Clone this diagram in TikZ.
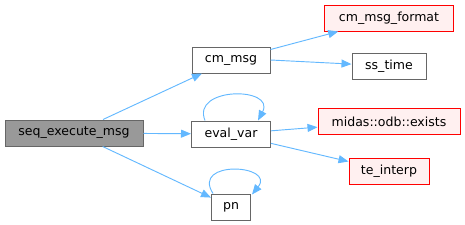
\documentclass[tikz,border=0pt]{standalone}
\usepackage{fontspec}
\setmainfont{DejaVu Sans}
\usepackage{xcolor}
\usetikzlibrary{arrows.meta,calc}

\definecolor{edgeblue}{HTML}{63B8FF}
\definecolor{boxgray}{HTML}{666666}
\definecolor{rootgray}{HTML}{999999}
\definecolor{extred}{HTML}{FF0000}
\definecolor{extfill}{HTML}{FFF0F0}

\tikzset{
  fnbox/.style={draw=boxgray,line width=0.75pt,fill=white,minimum height=19.5pt,inner sep=0pt,font=\fontsize{9.4}{11}\selectfont},
  rootfn/.style={fnbox,fill=rootgray},
  extbox/.style={fnbox,draw=extred,fill=extfill},
  callline/.style={draw=edgeblue,line width=0.7pt,-{Triangle[length=7.5pt,width=6pt]}}
}

\begin{document}
\begin{tikzpicture}[x=0.75pt,y=-0.75pt]
    \useasboundingbox (0,0) rectangle (465,225);

    % Caller
    \node[rootfn,minimum width=103.5pt] (seq) at (74,133) {seq\_execute\_msg};

    % First level
    \node[fnbox,minimum width=58.5pt] (cmmsg) at (231,60) {cm\_msg};
    \node[fnbox,minimum width=59.25pt] (evalvar) at (231,134) {eval\_var};
    \node[fnbox,minimum width=29.25pt] (pn) at (231,207) {pn};

    % Second level
    \node[extbox,minimum width=96.75pt] (cmformat) at (389,18) {cm\_msg\_format};
    \node[fnbox,minimum width=55.5pt] (sstime) at (389,66) {ss\_time};
    \node[extbox,minimum width=106.5pt] (exists) at (389,121.5) {midas::odb::exists};
    \node[extbox,minimum width=60pt] (interp) at (389,171) {te\_interp};

    % Calls
    \draw[callline] (seq) -- (cmmsg);
    \draw[callline] (seq) -- (evalvar);
    \draw[callline] (seq) -- (pn);
    \draw[callline] (cmmsg) -- (cmformat);
    \draw[callline] (cmmsg.east) -- (sstime);
    \draw[callline] (evalvar) -- (exists);
    \draw[callline] (evalvar) -- (interp);

    % Recursive calls
    \draw[callline] ($(evalvar.north)+(-26,0)$) .. controls +(-14,-34) and +(18,-34) .. ($(evalvar.north)+(27,0)$);
    \draw[callline] ($(pn.north west)+(2,0)$) .. controls +(-22,-34) and +(24,-30) .. ($(pn.north east)+(1,1)$);
\end{tikzpicture}
\end{document}
